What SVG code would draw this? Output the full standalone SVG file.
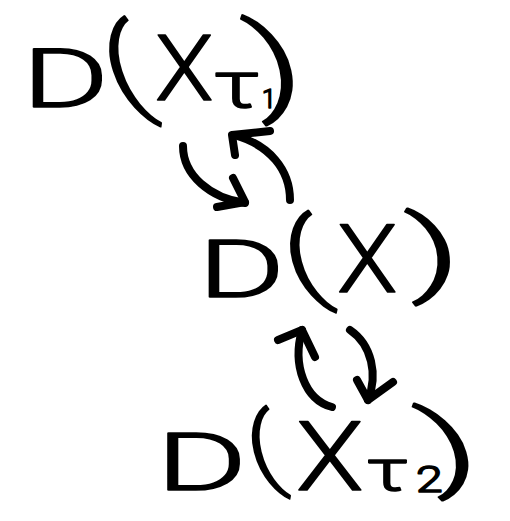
<svg xmlns="http://www.w3.org/2000/svg" width="510" height="521" viewBox="0 0 510 521">
<style>
.t{font-family:Roboto,"Liberation Sans",sans-serif;font-weight:300;fill:#000;stroke:#000;stroke-width:1.6;stroke-linejoin:round}
.c{fill:none;stroke:#000;stroke-width:8;stroke-linecap:round;stroke-linejoin:round}
</style>
<rect width="510" height="521" fill="#fff"/>
<g id="node-top">
<text class="t" font-size="82" transform="translate(22,107) scale(1.62,1)">D</text>
<text class="t" font-size="108" transform="translate(115,102) skewX(18) scale(1.2,1)">(</text>
<text class="t" font-size="91" transform="translate(155,100) scale(1.05,1)">X</text>
<text class="t" font-size="64" transform="translate(213,107) scale(1.45,1)">τ</text>
<text class="t" font-size="25" transform="translate(262,108)">1</text>
<text class="t" font-size="108" transform="translate(256,101) skewX(12) scale(1.5,1)">)</text>
</g>
<g id="node-mid">
<text class="t" font-size="80" transform="translate(198,297) scale(1.66,1)">D</text>
<text class="t" font-size="100" transform="translate(292,290) skewX(15) scale(1.3,1)">(</text>
<text class="t" font-size="94" transform="translate(337,292) scale(1.05,1)">X</text>
<text class="t" font-size="95" transform="translate(409,284) skewX(5) scale(1.75,1)">)</text>
</g>
<g id="node-bottom">
<text class="t" font-size="80" transform="translate(156,490) scale(1.74,1)">D</text>
<text class="t" font-size="91" transform="translate(254,478) skewX(14) scale(1.15,1)">(</text>
<text class="t" font-size="96" transform="translate(296,490) scale(1.15,1)">X</text>
<text class="t" font-size="58" transform="translate(366,490) scale(1.45,1)">τ</text>
<text class="t" font-size="37" transform="translate(416,492) scale(1.3,1)">2</text>
<text class="t" font-size="95" transform="translate(431,479) skewX(16) scale(1.75,1)">)</text>
</g>
<g id="connectors">
<path class="c" d="M183,146 C183,175 210,198 245,203"/>
<path class="c" d="M233,178 L245,202 L217,207"/>
<path class="c" d="M290,200 C290,170 270,145 234,135"/>
<path class="c" d="M235,155 L232,135 L270,131"/>
<path class="c" d="M332,407 C305,400 292,365 302,330"/>
<path class="c" d="M278,340 L302,330 L315,357"/>
<path class="c" d="M350,330 C372,345 378,375 368,400"/>
<path class="c" d="M357,380 L368,400 L393,382"/>
</g>
</svg>
